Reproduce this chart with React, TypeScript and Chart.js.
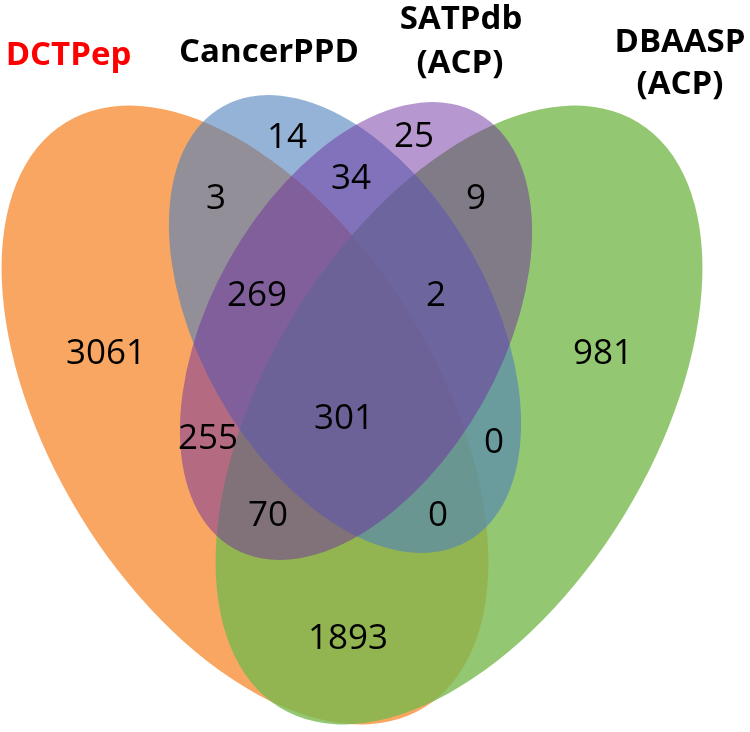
import React, { useEffect, useRef } from "react";
import { Chart, registerables } from "chart.js";

Chart.register(...registerables);

// ---- data ----
const setNames = ["DCTPep", "CancerPPD", "SATPdb\n(ACP)", "DBAASP\n(ACP)"];
const setLabelColors = ["#FF0000", "#000000", "#000000", "#000000"];
const setFillColors = [
  "rgba(247,150,70,0.85)",
  "rgba(79,129,189,0.6)",
  "rgba(112,48,160,0.5)",
  "rgba(121,185,77,0.8)",
];
// drawing order of the sets (bottom to top)
const drawOrder = [0, 3, 1, 2];

const regionSets = [
  "DCTPep", "CancerPPD", "SATPdb", "DBAASP",
  "DCTPep&CancerPPD", "CancerPPD&SATPdb", "SATPdb&DBAASP",
  "DCTPep&CancerPPD&SATPdb", "CancerPPD&SATPdb&DBAASP",
  "DCTPep&SATPdb", "All", "CancerPPD&DBAASP",
  "DCTPep&SATPdb&DBAASP", "DCTPep&CancerPPD&DBAASP", "DCTPep&DBAASP",
];
const regionCounts = [3061, 14, 25, 981, 3, 34, 9, 269, 2, 255, 301, 0, 70, 0, 1893];

// ---- layout (chart units = pixels of a 750 x 732 frame) ----
const regionLabelPos = [
  [106, 351], [287, 135], [414, 134], [603, 351],
  [216, 196], [351, 176], [476, 196],
  [257, 293], [436, 293],
  [208, 436], [344, 416], [494, 440],
  [268, 513], [438, 513], [348, 636],
];
// [cx, cy, semi-major, semi-minor, rotation deg]
const ellipseLayout = [
  [245, 415, 343, 193.2, 58.5],
  [345, 324, 249.5, 145.5, 60.7],
  [356, 331, 249.5, 145.5, -60.7],
  [459, 415, 343, 193.2, -58.5],
];
// [centerX, baselineY] per line
const setLabelPos = [
  [[68.5, 65]],
  [[269, 62]],
  [[461, 29], [460, 73]],
  [[680, 52], [680, 94]],
];

const NUM_FONT = "35px 'Open Sans'";
const LABEL_FONT = "bold 33px 'Open Sans'";

const vennPlugin = {
  id: "vennShapes",
  beforeDatasetsDraw(chart: any) {
    const { ctx, scales } = chart;
    const xs = scales.x;
    const ys = scales.y;
    const sx = Math.abs(xs.getPixelForValue(1) - xs.getPixelForValue(0));
    ctx.save();
    drawOrder.forEach((i) => {
      const [cx, cy, a, b, rot] = ellipseLayout[i];
      ctx.beginPath();
      ctx.ellipse(
        xs.getPixelForValue(cx),
        ys.getPixelForValue(cy),
        a * sx,
        b * sx,
        (rot * Math.PI) / 180,
        0,
        Math.PI * 2
      );
      ctx.fillStyle = setFillColors[i];
      ctx.fill();
    });
    ctx.restore();
  },
  afterDatasetsDraw(chart: any) {
    const { ctx, scales } = chart;
    const xs = scales.x;
    const ys = scales.y;
    ctx.save();
    // region counts
    const meta = chart.getDatasetMeta(0);
    ctx.font = NUM_FONT;
    ctx.fillStyle = "#000";
    ctx.textAlign = "center";
    ctx.textBaseline = "alphabetic";
    meta.data.forEach((pt: any, i: number) => {
      ctx.fillText(String(regionCounts[i]), pt.x, pt.y + 12.5);
    });
    // set names
    ctx.font = LABEL_FONT;
    setNames.forEach((name, i) => {
      ctx.fillStyle = setLabelColors[i];
      name.split("\n").forEach((line, j) => {
        const [px, py] = setLabelPos[i][j];
        ctx.fillText(line, xs.getPixelForValue(px), ys.getPixelForValue(py));
      });
    });
    ctx.restore();
  },
};

export default function App() {
  const canvasRef = useRef<HTMLCanvasElement | null>(null);
  useEffect(() => {
    if (!canvasRef.current) return;
    const chart = new Chart(canvasRef.current, {
      type: "scatter",
      data: {
        datasets: [
          {
            label: "Region counts",
            data: regionLabelPos.map(([x, y], i) => ({ x, y, count: regionCounts[i], set: regionSets[i] })),
            pointRadius: 0,
            pointHoverRadius: 0,
          } as any,
        ],
      },
      options: {
        animation: false,
        responsive: false,
        devicePixelRatio: 1,
        layout: { padding: 0 },
        events: [],
        plugins: { legend: { display: false }, tooltip: { enabled: false }, title: { display: false } },
        scales: {
          x: { type: "linear", min: 0, max: 750, display: false },
          y: { type: "linear", min: 0, max: 732, reverse: true, display: false },
        },
      },
      plugins: [vennPlugin],
    });
    return () => chart.destroy();
  }, []);
  return (
    <div style={{ position: "absolute", left: 0, top: 0, width: 750, height: 732, background: "#fff" }}>
      <canvas ref={canvasRef} width={750} height={732} style={{ display: "block" }} />
    </div>
  );
}
